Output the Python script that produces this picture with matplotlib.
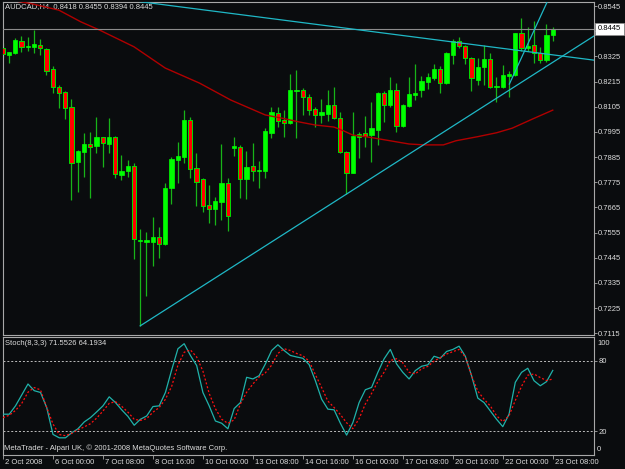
import numpy as np
import matplotlib.pyplot as plt
from matplotlib.transforms import ScaledTranslation

plt.rcParams['font.family'] = ['Liberation Sans', 'DejaVu Sans']

# AUDCAD H4 candles, 2 Oct 2008 16:00 .. 23 Oct 2008 08:00
opens = [0.8360, 0.8332, 0.8338, 0.8392, 0.8367, 0.8367, 0.8373, 0.8357, 0.8270, 0.8191,
         0.8170, 0.8102, 0.7865, 0.7908, 0.7942, 0.7935, 0.7971, 0.7942, 0.7971, 0.7806,
         0.7824, 0.7846, 0.7517, 0.7515, 0.7514, 0.7534, 0.7505, 0.7748, 0.7872, 0.7884,
         0.8047, 0.7837, 0.7789, 0.7674, 0.7659, 0.7689, 0.7770, 0.7926, 0.7930, 0.7790,
         0.7846, 0.7825, 0.7824, 0.7991, 0.8079, 0.8047, 0.8035, 0.8172, 0.8178, 0.8146,
         0.8094, 0.8067, 0.8073, 0.8112, 0.8054, 0.7908, 0.7817, 0.7974, 0.7989, 0.7981,
         0.8003, 0.8166, 0.8112, 0.8178, 0.8021, 0.8108, 0.8155, 0.8178, 0.8214, 0.8229,
         0.8268, 0.8207, 0.8331, 0.8393, 0.8370, 0.8316, 0.8222, 0.8280, 0.8312, 0.8190,
         0.8190, 0.8239, 0.8243, 0.8426, 0.8363, 0.8375, 0.8341, 0.8309, 0.8418]
highs = [0.8385, 0.8344, 0.8404, 0.8414, 0.8408, 0.8440, 0.8401, 0.8363, 0.8283, 0.8201,
         0.8175, 0.8140, 0.7914, 0.7989, 0.7993, 0.8061, 0.7974, 0.8055, 0.7977, 0.7894,
         0.7872, 0.7858, 0.7569, 0.7559, 0.7622, 0.7579, 0.7770, 0.7886, 0.7952, 0.8090,
         0.8059, 0.7904, 0.7793, 0.7763, 0.7711, 0.7942, 0.7793, 0.7971, 0.7938, 0.7913,
         0.7948, 0.7869, 0.8010, 0.8102, 0.8102, 0.8090, 0.8248, 0.8265, 0.8188, 0.8160,
         0.8105, 0.8137, 0.8178, 0.8190, 0.8083, 0.7913, 0.8083, 0.7996, 0.8064, 0.8127,
         0.8170, 0.8175, 0.8236, 0.8207, 0.8117, 0.8233, 0.8292, 0.8239, 0.8253, 0.8292,
         0.8283, 0.8345, 0.8399, 0.8408, 0.8375, 0.8322, 0.8316, 0.8375, 0.8341, 0.8233,
         0.8287, 0.8262, 0.8429, 0.8491, 0.8455, 0.8481, 0.8365, 0.8466, 0.8455]
lows = [0.8323, 0.8297, 0.8335, 0.8345, 0.8350, 0.8341, 0.8331, 0.8243, 0.8166, 0.8098,
        0.8053, 0.7697, 0.7734, 0.7799, 0.7705, 0.7901, 0.7843, 0.7904, 0.7795, 0.7785,
        0.7799, 0.7438, 0.7147, 0.7278, 0.7410, 0.7445, 0.7499, 0.7678, 0.7773, 0.7860,
        0.7793, 0.7671, 0.7646, 0.7598, 0.7588, 0.7610, 0.7563, 0.7889, 0.7705, 0.7700,
        0.7779, 0.7748, 0.7792, 0.7968, 0.8017, 0.7971, 0.8029, 0.7967, 0.8069, 0.8069,
        0.8017, 0.8035, 0.8044, 0.8050, 0.7901, 0.7723, 0.7814, 0.7879, 0.7930, 0.7865,
        0.7938, 0.8039, 0.8105, 0.7996, 0.8015, 0.8105, 0.8134, 0.8146, 0.8181, 0.8222,
        0.8163, 0.8204, 0.8292, 0.8360, 0.8292, 0.8175, 0.8200, 0.8200, 0.8187, 0.8127,
        0.8187, 0.8149, 0.8239, 0.8350, 0.8350, 0.8297, 0.8297, 0.8302, 0.8394]
closes = [0.8334, 0.8343, 0.8396, 0.8365, 0.8372, 0.8378, 0.8361, 0.8262, 0.8190, 0.8166,
          0.8101, 0.7860, 0.7911, 0.7942, 0.7930, 0.7971, 0.7948, 0.7971, 0.7810, 0.7824,
          0.7846, 0.7525, 0.7522, 0.7522, 0.7534, 0.7504, 0.7748, 0.7875, 0.7889, 0.8047,
          0.7834, 0.7777, 0.7671, 0.7659, 0.7692, 0.7770, 0.7627, 0.7935, 0.7790, 0.7843,
          0.7825, 0.7830, 0.7999, 0.8083, 0.8044, 0.8032, 0.8178, 0.8178, 0.8146, 0.8090,
          0.8067, 0.8080, 0.8112, 0.8054, 0.7907, 0.7817, 0.7977, 0.7987, 0.7977, 0.8010,
          0.8166, 0.8112, 0.8178, 0.8021, 0.8112, 0.8159, 0.8166, 0.8219, 0.8233, 0.8268,
          0.8207, 0.8338, 0.8393, 0.8370, 0.8316, 0.8229, 0.8280, 0.8312, 0.8190, 0.8194,
          0.8243, 0.8248, 0.8426, 0.8360, 0.8370, 0.8341, 0.8309, 0.8418, 0.8445]

# moving average (read at bar positions)
ma_pos = [2.5, 4.5, 9, 12.5, 15.5, 21, 26, 31.5, 36.5, 42, 45, 47.5, 50, 53, 54.5, 56,
          59, 62, 65, 67.5, 70.5, 72.5, 76, 79, 81.5, 85, 88]
ma_val = [0.8565, 0.8556, 0.8527, 0.8476, 0.8440, 0.8367, 0.8274, 0.8208, 0.8134, 0.8069,
          0.8053, 0.8038, 0.8025, 0.8016, 0.8000, 0.7981, 0.7970, 0.7956, 0.7942, 0.7938,
          0.7938, 0.7956, 0.7974, 0.7991, 0.8011, 0.8054, 0.8090]

# trend lines: two anchor points (bar, price)
trend_down = [(22.0, 0.8564), (94.45, 0.8309)]
trend_up = [(22.0, 0.7147), (55.0, 0.7723)]
trend_steep = [(81.06, 0.8204), (87.04, 0.8559)]

bid = 0.8445

stoch_k = [34.3, 34.3, 41.4, 50.7, 60.0, 54.3, 52.8, 39.9, 17.1, 14.2,
           14.2, 18.5, 21.9, 27.7, 31.4, 36.3, 41.4, 49.1, 44.2, 38.0,
           32.4, 24.9, 30.0, 32.8, 40.8, 41.4, 52.8, 72.0, 90.0, 94.3,
           84.3, 75.7, 52.8, 41.4, 28.5, 26.6, 21.9, 39.1, 44.2, 65.7,
           64.3, 67.1, 77.1, 88.5, 93.4, 88.5, 84.3, 83.0, 81.9, 76.5,
           62.8, 47.1, 38.6, 38.0, 26.6, 16.5, 27.1, 44.2, 55.1, 57.1,
           69.9, 81.4, 89.4, 77.1, 69.9, 64.3, 71.4, 75.1, 76.3, 83.6,
           81.9, 87.7, 89.4, 92.2, 83.6, 67.1, 48.0, 44.2, 37.1, 30.0,
           23.7, 34.3, 61.4, 69.9, 73.4, 62.8, 58.5, 62.0, 71.5526]
stoch_d = [31.4, 33.4, 37.5, 43.5, 53.0, 57.0, 55.0, 40.0, 26.0, 17.0,
           16.0, 18.0, 21.0, 23.5, 26.2, 31.0, 37.0, 43.5, 45.0, 41.0,
           36.0, 30.0, 29.0, 30.5, 36.0, 40.0, 47.0, 58.0, 76.0, 87.0,
           89.0, 83.0, 71.0, 52.0, 39.0, 30.0, 26.5, 29.5, 43.0, 53.0,
           60.0, 66.0, 69.5, 76.0, 86.0, 90.0, 88.5, 86.0, 84.0, 79.5,
           68.0, 57.0, 45.5, 40.0, 34.0, 27.0, 22.0, 30.5, 43.0, 52.0,
           62.0, 70.0, 80.0, 81.5, 78.0, 70.0, 68.6, 72.9, 75.0, 79.5,
           82.5, 85.5, 87.5, 89.4, 83.0, 67.0, 54.0, 47.0, 41.4, 33.0,
           28.0, 33.0, 46.0, 58.0, 67.5, 68.5, 65.5, 63.0, 64.1934]

time_labels = ['2 Oct 2008', '6 Oct 00:00', '7 Oct 08:00', '8 Oct 16:00', '10 Oct 00:00',
               '13 Oct 08:00', '14 Oct 16:00', '16 Oct 00:00', '17 Oct 08:00',
               '20 Oct 16:00', '22 Oct 00:00', '23 Oct 08:00']
price_ticks = [0.8545, 0.8435, 0.8325, 0.8215, 0.8105, 0.7995, 0.7885, 0.7775, 0.7665,
               0.7555, 0.7445, 0.7335, 0.7225, 0.7115]

BG = '#0a0c0e'
FG = '#dcdcdc'
FRAME = '#a8a8a8'
FS = 5.5

fig = plt.figure(figsize=(6.25, 4.69), dpi=100, facecolor=BG)
ax = fig.add_axes([3 / 625, 1 - 335 / 469, 591 / 625, 333.3 / 469], facecolor=BG)
ax2 = fig.add_axes([3 / 625, 1 - 454.5 / 469, 591 / 625, 117.5 / 469], facecolor=BG)

xlim = (0.05, 94.6)

# candles
o = np.array(opens)
h = np.array(highs)
l = np.array(lows)
c = np.array(closes)
idx = np.arange(len(o))
bull = c >= o
bottom = np.minimum(o, c)
height = np.maximum(np.abs(c - o), 0.0004)

ax.vlines(idx, l, h, color='#18b418', lw=0.9, zorder=2)
ax.bar(idx[bull], height[bull], bottom=bottom[bull], width=0.7,
       color='#00ff00', edgecolor='#00ff00', lw=0.5, zorder=3)
ax.bar(idx[~bull], height[~bull], bottom=bottom[~bull], width=0.7,
       color='#ff0000', edgecolor='#00e000', lw=0.7, zorder=3)

ax.plot(ma_pos, ma_val, color='#b00000', lw=1.0, zorder=4)
ax.axhline(bid, color='#8c8c8c', lw=0.8, zorder=4)

tl_col = '#1fb8c6'
for (x0, y0), (x1, y1) in [trend_down, trend_up, trend_steep]:
    slope = (y1 - y0) / (x1 - x0)
    xe = xlim[1] + 5
    ax.plot([x0, xe], [y0, y0 + slope * (xe - x0)], color=tl_col, lw=0.9, zorder=5)

ax.set_xlim(*xlim)
ax.set_ylim(0.7107, 0.8564)
ax.set_xticks([])
ax.yaxis.tick_right()
ax.set_yticks(price_ticks)
# the 0.8435 label sits under the bid box
ax.set_yticklabels(['' if abs(p - bid) < 0.002 else '%.4f' % p for p in price_ticks])
ax.tick_params(axis='y', colors=FRAME, labelcolor=FG, labelsize=FS, length=2, width=0.6, pad=1)

ax.annotate('AUDCAD,H4  0.8418 0.8455 0.8394 0.8445', xy=(0, 1), xycoords='axes fraction',
            xytext=(1.5, -1.2), textcoords='offset points', ha='left', va='top',
            color=FG, fontsize=FS)
ax.annotate('%.4f' % bid, xy=(1, bid), xycoords=('axes fraction', 'data'),
            xytext=(2.6, 0), textcoords='offset points', ha='left', va='center',
            color='black', fontsize=FS, annotation_clip=False,
            bbox=dict(boxstyle='square,pad=0.35', fc='white', ec='#909090', lw=0.5))

# stochastic panel
ax2.plot(idx, stoch_k, color='#20b2aa', lw=0.9, zorder=3)
ax2.plot(idx, stoch_d, color='#ff1010', lw=0.9, ls=(0, (1.6, 1.6)), zorder=3)
for lev in (20, 80):
    ax2.axhline(lev, color='#bdbdbd', lw=0.7, ls=(0, (2, 2)), zorder=2)

ax2.set_xlim(*xlim)
ax2.set_ylim(0, 100)
ax2.yaxis.tick_right()
ax2.set_yticks([80, 20])
ax2.set_yticklabels(['80', '20'])
ax2.tick_params(axis='y', colors=FRAME, labelcolor=FG, labelsize=FS, length=2, width=0.6, pad=1)
for val, dy in ((100, -4.5), (0, 3.5)):
    ax2.annotate(str(val), xy=(1, val), xycoords=('axes fraction', 'data'),
                 xytext=(2.2, dy), textcoords='offset points', ha='left', va='center',
                 color=FG, fontsize=FS, annotation_clip=False)

ax2.set_xticks(np.arange(0, 89, 8))
ax2.set_xticklabels(time_labels)
ax2.tick_params(axis='x', colors=FRAME, labelcolor=FG, labelsize=FS, length=3, width=0.6, pad=0.5)
shift = ScaledTranslation(1.5 / 72, 0, fig.dpi_scale_trans)
for lbl in ax2.get_xticklabels():
    lbl.set_horizontalalignment('left')
    lbl.set_transform(lbl.get_transform() + shift)

ax2.annotate('Stoch(8,3,3) 71.5526 64.1934', xy=(0, 1), xycoords='axes fraction',
             xytext=(1.5, -2.2), textcoords='offset points', ha='left', va='top',
             color=FG, fontsize=FS)
ax2.annotate('MetaTrader - Alpari UK, \u00a9 2001-2008 MetaQuotes Software Corp.', xy=(0, 0),
             xycoords='axes fraction', xytext=(1, 2), textcoords='offset points',
             ha='left', va='bottom', color=FG, fontsize=FS)

for a in (ax, ax2):
    for s in a.spines.values():
        s.set_color(FRAME)
        s.set_linewidth(0.8)

fig.savefig('out.png', dpi=100, facecolor=BG)
